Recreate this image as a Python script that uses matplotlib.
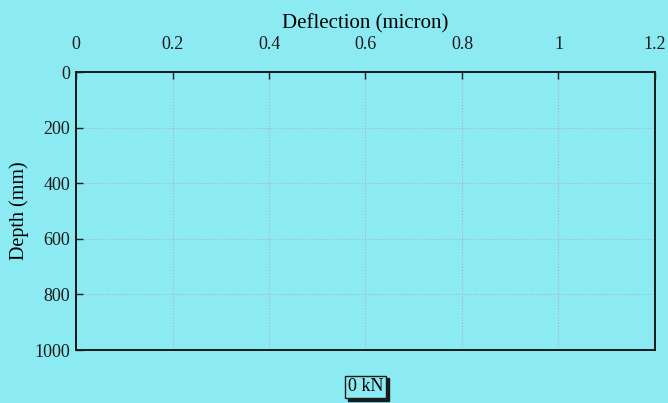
import matplotlib
matplotlib.use('Agg')
import matplotlib.pyplot as plt

# load case: 0 kN -> no deflection along the depth
depth = [0, 200, 400, 600, 800, 1000]
deflection_0kn = [0, 0, 0, 0, 0, 0]
x_ticks = [0, 0.2, 0.4, 0.6, 0.8, 1, 1.2]
x_labels = ['0', '0.2', '0.4', '0.6', '0.8', '1', '1.2']
y_ticks = [0, 200, 400, 600, 800, 1000]

bg = '#8cebf2'
plt.rcParams['font.family'] = ['Liberation Serif', 'DejaVu Serif']

fig = plt.figure(figsize=(6.68, 4.03), dpi=100, facecolor=bg)
ax = fig.add_axes([0.1138, 0.1315, 0.8667, 0.6898], facecolor=bg)

ax.plot(deflection_0kn, depth, color='#1a1a1a', lw=1.2, label='0 kN')

ax.set_xlim(0, 1.2)
ax.set_ylim(1000, 0)
ax.xaxis.tick_top()
ax.xaxis.set_label_position('top')
ax.set_xticks(x_ticks)
ax.set_xticklabels(x_labels)
ax.set_yticks(y_ticks)
ax.tick_params(axis='both', direction='in', length=5, width=1, colors='#1a1a1a',
               labelsize=13, pad=14)
ax.tick_params(axis='y', pad=4)
ax.set_xlabel('Deflection (micron)', fontsize=15, labelpad=5)
ax.set_ylabel('Depth (mm)', fontsize=14.5, labelpad=4)

ax.grid(True, linestyle=':', color='#a4b4bc', lw=0.8)
for s in ax.spines.values():
    s.set_color('#1a1a1a')
    s.set_linewidth(1.4)

leg = ax.legend(loc='upper center', bbox_to_anchor=(0.5, -0.06), handlelength=0,
                handletextpad=0, fontsize=13, frameon=True, fancybox=False,
                shadow={'color': '#1a1a1a', 'alpha': 1}, borderpad=0.15)
leg.get_frame().set_edgecolor('#1a1a1a')
leg.get_frame().set_facecolor(bg)
for h in leg.legend_handles:
    h.set_visible(False)

fig.savefig('out.png', dpi=100, facecolor=bg)
